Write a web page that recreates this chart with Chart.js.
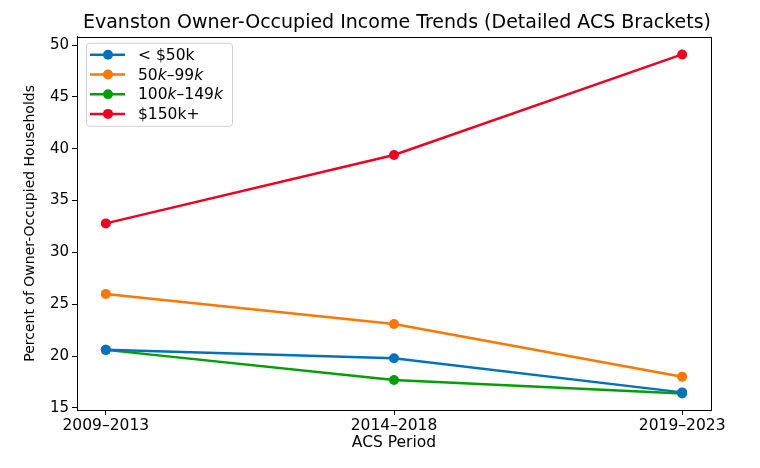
<!DOCTYPE html>
<html>
<head>
<meta charset="utf-8">
<script src="https://cdn.jsdelivr.net/npm/chart.js@4.4.1/dist/chart.umd.min.js"></script>
<style>
  body { margin: 0; background: #fff; }
  canvas { display: block; }
</style>
</head>
<body>
<canvas id="chart" width="760" height="468"></canvas>
<script>
const periods = ["2009–2013", "2014–2018", "2019–2023"];
const under50k = [20.6, 19.8, 16.5];
const from50to99k = [26.0, 23.1, 18.0];
const from100to149k = [20.6, 17.7, 16.4];
const over150k = [32.8, 39.4, 49.1];
const yTicks = [15, 20, 25, 30, 35, 40, 45, 50];

const FONT = "'DejaVu Sans', sans-serif";

const series = [
  { label: "< $50k", values: under50k, color: "#0072BD", parts: [["< $50k", false]] },
  { label: "50k–99k", values: from50to99k, color: "#FF7700", parts: [["50", false], ["k", true], ["–99", false], ["k", true]] },
  { label: "100k–149k", values: from100to149k, color: "#00A000", parts: [["100", false], ["k", true], ["–149", false], ["k", true]] },
  { label: "$150k+", values: over150k, color: "#F00020", parts: [["$150k+", false]] },
];

const toPoints = (vals) => vals.map((v, i) => ({ x: i, y: v }));

// full box around plot + legend inside axes, matplotlib style
const framePlugin = {
  id: "frame",
  afterDatasetsDraw(chart) {
    const { ctx, chartArea: a } = chart;
    ctx.save();
    ctx.strokeStyle = "#000";
    ctx.lineWidth = 1;
    ctx.strokeRect(Math.round(a.left) + 0.5, Math.round(a.top) + 0.5,
      Math.round(a.right - a.left), Math.round(a.bottom - a.top));

    // legend
    const x0 = a.left + 9, y0 = a.top + 6, w = 146, h = 83;
    ctx.fillStyle = "rgba(255,255,255,0.8)";
    ctx.strokeStyle = "#d0d0d0";
    ctx.beginPath();
    ctx.roundRect(x0 + 0.5, y0 + 0.5, w, h, 3);
    ctx.fill();
    ctx.stroke();
    ctx.textBaseline = "middle";
    series.forEach((s, i) => {
      const cy = y0 + 12 + i * 19.7;
      ctx.strokeStyle = s.color;
      ctx.lineWidth = 2.5;
      ctx.beginPath();
      ctx.moveTo(x0 + 4, cy);
      ctx.lineTo(x0 + 39, cy);
      ctx.stroke();
      ctx.fillStyle = s.color;
      ctx.beginPath();
      ctx.arc(x0 + 22, cy, 5, 0, Math.PI * 2);
      ctx.fill();
      let tx = x0 + 52;
      ctx.fillStyle = "#000";
      s.parts.forEach(([t, it]) => {
        ctx.font = (it ? "italic " : "") + "15.5px " + FONT;
        ctx.fillText(t, tx, cy + 1);
        tx += ctx.measureText(t).width;
      });
    });
    ctx.restore();
  },
};

new Chart(document.getElementById("chart"), {
  type: "line",
  data: {
    datasets: series.map((s) => ({
      label: s.label,
      data: toPoints(s.values),
      borderColor: s.color,
      backgroundColor: s.color,
      borderWidth: 2.5,
      pointRadius: 5,
      pointHoverRadius: 5,
      pointBorderWidth: 0,
      tension: 0,
    })),
  },
  options: {
    responsive: false,
    animation: false,
    devicePixelRatio: 1,
    layout: { padding: { left: 0, right: 49, top: 0, bottom: 0 } },
    plugins: {
      legend: { display: false },
      tooltip: { enabled: false },
      title: {
        display: true,
        align: "end",
        text: "Evanston Owner-Occupied Income Trends (Detailed ACS Brackets)",
        color: "#000",
        font: { family: FONT, size: 19, weight: "normal" },
        padding: { top: 12, bottom: 2 },
      },
    },
    scales: {
      x: {
        type: "linear",
        min: -0.1,
        max: 2.1,
        afterBuildTicks: (scale) => {
          scale.ticks = periods.map((p, i) => ({ value: i }));
        },
        afterFit: (scale) => { scale.height = 58; },
        ticks: {
          color: "#000",
          font: { family: FONT, size: 15.5 },
          padding: 2,
          maxRotation: 0,
          autoSkip: false,
          callback: (v) => periods[v],
        },
        grid: { drawOnChartArea: false, tickLength: 5, color: "#000", tickColor: "#000" },
        border: { color: "#000" },
        title: {
          display: true,
          text: "ACS Period",
          color: "#000",
          font: { family: FONT, size: 15.5 },
          padding: { top: 0, bottom: 16 },
        },
      },
      y: {
        type: "linear",
        min: 14.8,
        max: 50.8,
        afterBuildTicks: (scale) => {
          scale.ticks = yTicks.map((v) => ({ value: v }));
        },
        afterFit: (scale) => { scale.width = 77; },
        ticks: {
          color: "#000",
          font: { family: FONT, size: 15 },
          padding: 3,
        },
        grid: { drawOnChartArea: false, tickLength: 5, color: "#000", tickColor: "#000" },
        border: { color: "#000" },
        title: {
          display: true,
          text: "Percent of Owner-Occupied Households",
          color: "#000",
          font: { family: FONT, size: 14 },
          padding: { top: 22, bottom: 0 },
        },
      },
    },
  },
  plugins: [framePlugin],
});
</script>
</body>
</html>
